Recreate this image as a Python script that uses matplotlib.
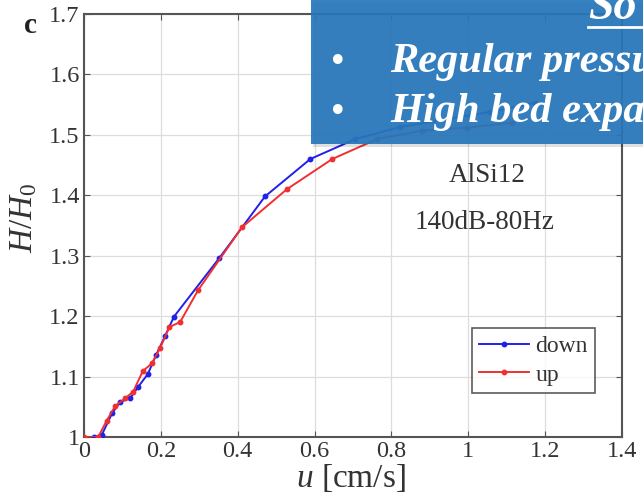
import matplotlib
matplotlib.use("Agg")
import matplotlib.pyplot as plt
import matplotlib.patches as patches

# ---- data ----
u_down = [0.025, 0.046, 0.073, 0.094, 0.120, 0.141, 0.166, 0.188, 0.211, 0.234,
          0.352, 0.471, 0.589, 0.706, 0.823, 1.057, 1.174]
h_down = [1.000, 1.003, 1.039, 1.058, 1.064, 1.083, 1.104, 1.136, 1.167, 1.199,
          1.296, 1.398, 1.460, 1.493, 1.513, 1.538, 1.553]

u_up = [0.0, 0.037, 0.059, 0.081, 0.107, 0.128, 0.153, 0.177, 0.198, 0.222,
        0.250, 0.297, 0.411, 0.528, 0.646, 0.763, 0.880, 0.997, 1.115]
h_up = [1.000, 1.000, 1.027, 1.051, 1.064, 1.075, 1.109, 1.122, 1.147, 1.182,
        1.190, 1.243, 1.347, 1.410, 1.460, 1.493, 1.507, 1.512, 1.520]

x_ticks = [0, 0.2, 0.4, 0.6, 0.8, 1.0, 1.2, 1.4]
x_labels = ["0", "0.2", "0.4", "0.6", "0.8", "1", "1.2", "1.4"]
y_ticks = [1.0, 1.1, 1.2, 1.3, 1.4, 1.5, 1.6, 1.7]
y_labels = ["1", "1.1", "1.2", "1.3", "1.4", "1.5", "1.6", "1.7"]

plt.rcParams['font.family'] = ['Liberation Serif', 'DejaVu Serif']
plt.rcParams['mathtext.fontset'] = 'custom'
plt.rcParams['mathtext.it'] = 'Liberation Serif:italic'
plt.rcParams['mathtext.rm'] = 'Liberation Serif'

fig = plt.figure(figsize=(6.43, 5.03), dpi=100)
ax = fig.add_axes([0.1306, 0.1312, 0.9673 - 0.1306, 0.9722 - 0.1312])

ax.plot(u_down, h_down, color='#2020e8', lw=1.4, marker='o', ms=3.2, label='down', zorder=3)
ax.plot(u_up, h_up, color='#f03030', lw=1.4, marker='o', ms=3.2, label='up', zorder=3)

ax.set_xlim(0, 1.4)
ax.set_ylim(1.0, 1.7)
ax.set_xticks(x_ticks)
ax.set_xticklabels(x_labels)
ax.set_yticks(y_ticks)
ax.set_yticklabels(y_labels)
ax.tick_params(direction='in', top=True, right=True, labelsize=17.5, length=4,
               color='#555555', labelcolor='#333333', pad=3)
ax.grid(True, color='#dddddd', lw=0.9)
ax.set_axisbelow(True)
for s in ax.spines.values():
    s.set_color('#555555')
    s.set_linewidth(1.5)

ax.set_xlabel(r'$u$ [cm/s]', fontsize=24, color='#333333')
ax.set_ylabel(r'$H/H_0$', fontsize=24, color='#333333')
ax.xaxis.set_label_coords(0.496, -0.059)
ax.yaxis.set_label_coords(-0.084, 0.518)

ax.text(0.749, 0.619, 'AlSi12', transform=ax.transAxes, ha='center', va='center',
        fontsize=19.5, color='#333333')
ax.text(0.745, 0.508, '140dB-80Hz', transform=ax.transAxes, ha='center', va='center',
        fontsize=19.5, color='#333333')

leg = ax.legend(loc='lower right', bbox_to_anchor=(0.95, 0.105), fontsize=17,
                frameon=True, fancybox=False, edgecolor='#333333',
                handlelength=2.1, handletextpad=0.3, borderpad=0.3,
                labelspacing=0.3, borderaxespad=0)
leg.get_frame().set_linewidth(1.2)
for t in leg.get_texts():
    t.set_color('#333333')

fig.text(0.048, 0.950, 'c', fontsize=21, fontweight='bold', ha='center', va='center',
         color='#222222')

# slide overlay box
bx0, by0 = 311 / 643, 1 - 144 / 503
shadow = patches.Rectangle((bx0 + 0.003, by0 - 0.006), 1 - bx0, 1 - by0,
                           transform=fig.transFigure, facecolor='#000000',
                           alpha=0.12, edgecolor='none', zorder=9)
fig.add_artist(shadow)
box = patches.Rectangle((bx0, by0), 1 - bx0, 1 - by0, transform=fig.transFigure,
                        facecolor='#2777bb', alpha=0.93, edgecolor='none', zorder=10)
fig.add_artist(box)

fig.text(588 / 643, 1 - 19 / 503, 'So', fontsize=33, fontweight='bold', style='italic',
         color='white', ha='left', va='baseline', zorder=11)
fig.add_artist(plt.Line2D([588 / 643, 1.0], [1 - 27 / 503, 1 - 27 / 503],
                          transform=fig.transFigure, color='white', lw=2, zorder=11))
fig.text(338 / 643, 1 - 72 / 503, '•', fontsize=24, color='white', ha='center',
         va='baseline', zorder=11, family=['DejaVu Sans'])
fig.text(390 / 643, 1 - 72 / 503, 'Regular pressure', fontsize=30.5, fontweight='bold',
         style='italic', color='white', ha='left', va='baseline', zorder=11)
fig.text(338 / 643, 1 - 122 / 503, '•', fontsize=24, color='white', ha='center',
         va='baseline', zorder=11, family=['DejaVu Sans'])
fig.text(390 / 643, 1 - 122 / 503, 'High bed expansion', fontsize=30.5, fontweight='bold',
         style='italic', color='white', ha='left', va='baseline', zorder=11)

fig.savefig('out.png', dpi=100)
